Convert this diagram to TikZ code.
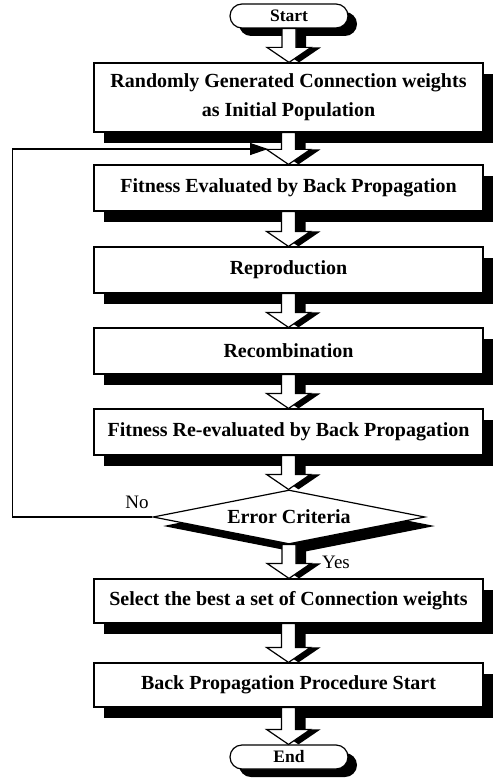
\documentclass[tikz,border=0pt]{standalone}
\usepackage{fontspec}
\setmainfont{Liberation Serif}
\usetikzlibrary{shadows,shapes.geometric,arrows.meta,calc}

% hollow block arrow with a solid black shadow, from the bottom of #1 to the top of #2
\newcommand\blockarrow[2]{%
  \path[fill=black] let \p1=(#1.south), \p2=(#2.north) in
    (\x1+3pt,\y1) -- (\x1+17pt,\y1) -- (\x1+17pt,\y2+15pt) -- (\x1+32pt,\y2+15pt)
    -- (\x1+10pt,\y2) -- (\x1-12pt,\y2+15pt) -- (\x1+3pt,\y2+15pt) -- cycle;
  \path[draw=black, line width=1.2pt, fill=white, line join=miter] let \p1=(#1.south), \p2=(#2.north) in
    (\x1-7pt,\y1) -- (\x1+7pt,\y1) -- (\x1+7pt,\y2+15pt) -- (\x1+22pt,\y2+15pt)
    -- (\x1,\y2) -- (\x1-22pt,\y2+15pt) -- (\x1-7pt,\y2+15pt) -- cycle;
}

\begin{document}
\begin{tikzpicture}[x=1pt,y=-1pt,
  box/.style={draw=black, line width=1.2pt, fill=white,
    minimum width=389pt, minimum height=46pt, inner sep=0pt,
    font=\fontsize{20}{29}\selectfont\bfseries, align=center,
    general shadow={fill=black, shadow xshift=10pt, shadow yshift=-11pt}},
  term/.style={draw=black, line width=1.2pt, fill=white, rounded corners=12pt,
    minimum width=118pt, minimum height=24pt, inner sep=0pt,
    font=\fontsize{17.5}{20}\selectfont\bfseries,
    general shadow={fill=black, shadow xshift=9pt, shadow yshift=-8pt}},
  decision/.style={draw=black, line width=1.2pt, fill=white, diamond, aspect=5,
    minimum width=272pt, minimum height=54pt, inner sep=0pt,
    font=\fontsize{20}{24}\selectfont\bfseries,
    general shadow={fill=black, shadow xshift=10pt, shadow yshift=-9pt}},
  answer/.style={font=\fontsize{19}{21}\selectfont, inner sep=0pt},
  feedback/.style={draw=black, line width=1.3pt, -{Triangle[length=18pt,width=12pt]}}
]
\fill[white] (0,0) rectangle (496,778);
\useasboundingbox (0,0) rectangle (496,778);

% process column
\node[term] (start) at (289,16) {Start};
\node[box, minimum height=69pt] (init) at (288.5,97.5)
  {Randomly Generated Connection weights\\as Initial Population};
\node[box] (eval) at (288.5,188) {Fitness Evaluated by Back Propagation};
\node[box] (repro) at (288.5,270) {Reproduction};
\node[box] (recomb) at (288.5,351) {Recombination};
\node[box] (reeval) at (288.5,432) {Fitness Re-evaluated by Back Propagation};
\node[decision] (crit) at (289,517) {Error Criteria};
\node[box, minimum height=44pt] (select) at (288.5,601) {Select the best a set of Connection weights};
\node[box, minimum height=44pt] (bp) at (288.5,685) {Back Propagation Procedure Start};
\node[term] (end) at (289,757) {End};

% flow arrows
\blockarrow{start}{init}
\blockarrow{init}{eval}
\blockarrow{eval}{repro}
\blockarrow{repro}{recomb}
\blockarrow{recomb}{reeval}
\blockarrow{reeval}{crit}
\blockarrow{crit}{select}
\blockarrow{select}{bp}
\blockarrow{bp}{end}

% loop back when the error criterion is not met
\coordinate (back) at (268,149);
\draw[feedback] (crit.west) -- ++(-140,0) |- (back);

\node[answer] (no) at (137,502) {No};
\node[answer] (yes) at (336,562) {Yes};
\end{tikzpicture}
\end{document}
